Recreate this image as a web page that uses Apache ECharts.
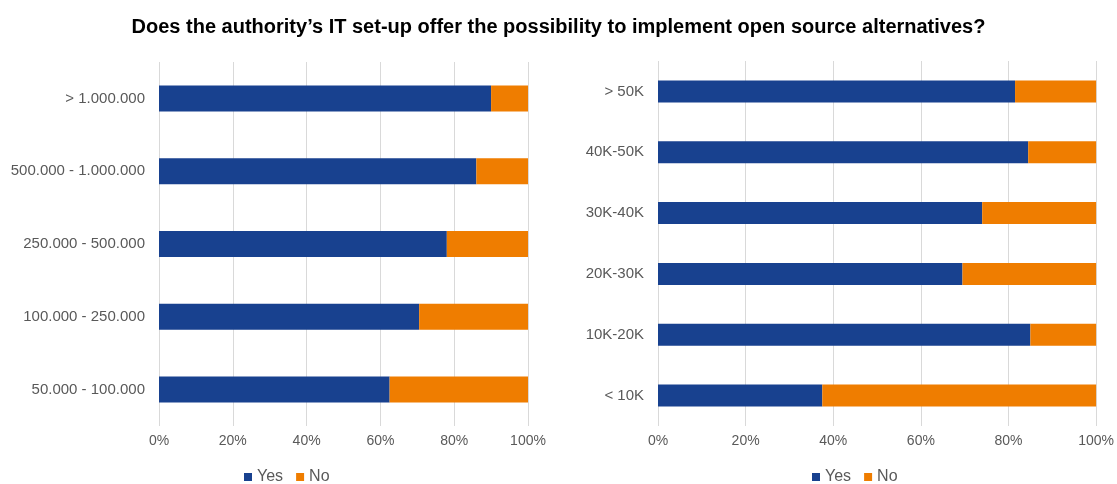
<!DOCTYPE html>
<html>
<head>
<meta charset="utf-8">
<script src="https://cdn.jsdelivr.net/npm/echarts@6/dist/echarts.min.js"></script>
<style>
  html, body { margin: 0; padding: 0; background: #fff; }
  #chart { width: 1117px; height: 484px; }
</style>
</head>
<body>
<div id="chart"></div>
<script>
// Population size bands (left panel), top to bottom
const popCategories = ['> 1.000.000', '500.000 - 1.000.000', '250.000 - 500.000', '100.000 - 250.000', '50.000 - 100.000'];
const popYes = [90, 86, 78, 70.5, 62.5];
const popNo = [10, 14, 22, 29.5, 37.5];

// Staff size bands (right panel), top to bottom
const staffCategories = ['> 50K', '40K-50K', '30K-40K', '20K-30K', '10K-20K', '< 10K'];
const staffYes = [81.5, 84.5, 74, 69.5, 85, 37.5];
const staffNo = [18.5, 15.5, 26, 30.5, 15, 62.5];

const seriesNames = ['Yes', 'No'];
const YES_COLOR = '#18418f';
const NO_COLOR = '#ef7d00';
const FONT = '"Liberation Sans", Arial, sans-serif';

const chart = echarts.init(document.getElementById('chart'), null, { renderer: 'canvas' });

function valueAxis(gridIndex) {
  return {
    type: 'value', gridIndex, min: 0, max: 100, interval: 20,
    axisLabel: { formatter: '{value}%', color: '#595959', fontSize: 14, fontFamily: FONT, margin: 8 },
    axisLine: { show: false }, axisTick: { show: false },
    splitLine: { show: true, lineStyle: { color: '#d9d9d9', width: 1 } }
  };
}
function categoryAxis(gridIndex, data) {
  return {
    type: 'category', gridIndex, data, inverse: true,
    axisLabel: { color: '#595959', fontSize: 15, fontFamily: FONT, margin: 14 },
    axisLine: { show: false }, axisTick: { show: false }, splitLine: { show: false }
  };
}
function bar(name, data, color, xi, width) {
  return {
    name, type: 'bar', stack: 'total' + xi, data,
    xAxisIndex: xi, yAxisIndex: xi,
    barWidth: width, itemStyle: { color },
    emphasis: { disabled: true }
  };
}
function legend(left) {
  return {
    data: seriesNames, left, top: 464, itemWidth: 8, itemHeight: 8, itemGap: 13, icon: 'rect',
    textStyle: { fontFamily: FONT, fontSize: 16, color: '#595959' }
  };
}

chart.setOption({
  animation: false,
  backgroundColor: '#ffffff',
  title: {
    text: 'Does the authority\u2019s IT set-up offer the possibility to implement open source alternatives?',
    left: 'center', top: 12,
    textStyle: { fontFamily: FONT, fontWeight: 'bold', fontSize: 20, color: '#000' }
  },
  legend: [legend(239), legend(807)],
  grid: [
    { left: 159, right: 589, top: 62, bottom: 58, containLabel: false },
    { left: 658, right: 20, top: 61, bottom: 58, containLabel: false }
  ],
  xAxis: [valueAxis(0), valueAxis(1)],
  yAxis: [categoryAxis(0, popCategories), categoryAxis(1, staffCategories)],
  series: [
    bar('Yes', popYes, YES_COLOR, 0, 26),
    bar('No', popNo, NO_COLOR, 0, 26),
    bar('Yes', staffYes, YES_COLOR, 1, 22),
    bar('No', staffNo, NO_COLOR, 1, 22)
  ]
});
</script>
</body>
</html>
